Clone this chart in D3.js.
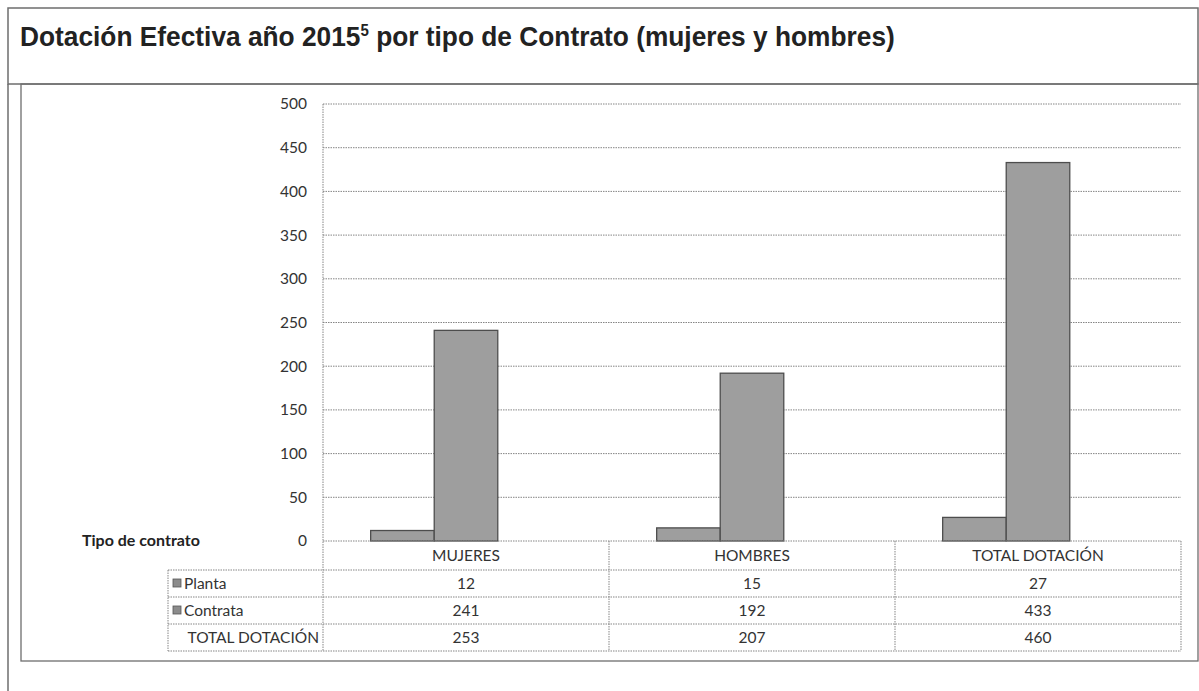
<!DOCTYPE html>
<html>
<head>
	<meta charset="utf-8">
	<title>Dotación Efectiva 2015</title>
	<script src="https://cdnjs.cloudflare.com/ajax/libs/d3/7.8.5/d3.min.js"></script>
	<style>
		body { margin: 0; background: #fff; }
		svg { display: block; }
	</style>
</head>
<body>
	<script>

		// data
		var categories = ["MUJERES", "HOMBRES", "TOTAL DOTACIÓN"];
		var seriesNames = ["Planta", "Contrata", "TOTAL DOTACIÓN"];
		var planta = [12, 15, 27];
		var contrata = [241, 192, 433];
		var totalDotacion = [253, 207, 460];
		var yTicks = [0, 50, 100, 150, 200, 250, 300, 350, 400, 450, 500];

		var seriesValues = [planta, contrata, totalDotacion];
		var drawnSeries = ["Planta", "Contrata"]; // third series has no visible bar

		var width = 1199;
		var height = 691;

		var svg = d3.select("body").append("svg")
			.attr("width", width)
			.attr("height", height);

		var frameColor = "#6e6e6e";
		var gridColor = "#858585";
		var textColor = "#333";
		var font = "Lato, 'Open Sans', sans-serif";
		var fs = 15.5;

		// outer frame and title box
		svg.append("rect")
			.attr("x", 8).attr("y", 8)
			.attr("width", 1190).attr("height", 76)
			.attr("fill", "none")
			.attr("stroke", frameColor)
			.attr("stroke-width", 1.5);
		svg.append("line")
			.attr("x1", 8).attr("x2", 8)
			.attr("y1", 84).attr("y2", 691)
			.attr("stroke", frameColor).attr("stroke-width", 1.5);

		// chart box
		svg.append("rect")
			.attr("x", 21).attr("y", 84)
			.attr("width", 1177).attr("height", 577)
			.attr("fill", "none")
			.attr("stroke", frameColor)
			.attr("stroke-width", 1.3);

		// title (condensed face: squeeze horizontally to the original width)
		var title = svg.append("text")
			.attr("x", 0).attr("y", 0)
			.attr("font-family", "'Liberation Sans Narrow', 'Arial Narrow', 'Liberation Sans', sans-serif")
			.attr("font-weight", "bold")
			.attr("font-size", 28)
			.attr("fill", "#222");
		title.append("tspan").text("Dotación Efectiva año 2015");
		title.append("tspan").attr("font-size", 16).attr("dy", -10).text("5");
		title.append("tspan").attr("dy", 10).text(" por tipo de Contrato (mujeres y hombres)");
		var tw = title.node().getComputedTextLength();
		title.attr("transform", "translate(20,46) scale(" + (875 / tw) + ",1)");

		// scales
		var plotLeft = 323, plotRight = 1181, plotTop = 104, plotBottom = 541;

		var x = d3.scaleBand()
			.domain(categories)
			.range([plotLeft, plotRight])
			.padding(0);

		var xInner = d3.scaleBand()
			.domain(seriesNames)
			.range([0, x.bandwidth()])
			.paddingInner(0)
			.paddingOuter(0.75);

		var y = d3.scaleLinear()
			.domain([0, 500])
			.range([plotBottom, plotTop]);

		// gridlines
		svg.append("g")
			.selectAll("line")
			.data(yTicks.filter(function(d) { return d > 0; }))
			.join("line")
			.attr("x1", plotLeft).attr("x2", plotRight)
			.attr("y1", function(d) { return y(d); })
			.attr("y2", function(d) { return y(d); })
			.attr("stroke", gridColor)
			.attr("stroke-width", 1)
			.attr("stroke-dasharray", "1.5,1");

		// y axis labels
		var yAxis = svg.append("g")
			.attr("transform", "translate(" + plotLeft + ",0)")
			.call(d3.axisLeft(y).tickValues(yTicks).tickSize(0).tickPadding(16));
		yAxis.select(".domain").remove();
		yAxis.selectAll("text")
			.attr("font-family", font)
			.attr("font-size", fs)
			.attr("fill", textColor);

		// bars
		var rows = [];
		categories.forEach(function(c, i) {
			seriesNames.forEach(function(s, j) {
				if (drawnSeries.indexOf(s) >= 0) rows.push({ cat: c, series: s, value: seriesValues[j][i] });
			});
		});

		svg.append("g")
			.selectAll("rect")
			.data(rows)
			.join("rect")
			.attr("x", function(d) { return x(d.cat) + xInner(d.series); })
			.attr("y", function(d) { return y(d.value); })
			.attr("width", xInner.bandwidth())
			.attr("height", function(d) { return y(0) - y(d.value); })
			.attr("fill", "#9e9e9e")
			.attr("stroke", "#4d4d4d")
			.attr("stroke-width", 1.3);

		// data table
		var tableLeft = 168;
		var rowH = 27;
		var headerTop = plotBottom;
		var headerBottom = 570;
		var tableBottom = headerBottom + rowH * seriesNames.length;
		var tg = svg.append("g");

		function hLine(x1, x2, yy) {
			tg.append("line")
				.attr("x1", x1).attr("x2", x2).attr("y1", yy).attr("y2", yy)
				.attr("stroke", gridColor).attr("stroke-width", 1)
				.attr("stroke-dasharray", "1.5,1");
		}
		function vLine(xx, y1, y2) {
			tg.append("line")
				.attr("x1", xx).attr("x2", xx).attr("y1", y1).attr("y2", y2)
				.attr("stroke", gridColor).attr("stroke-width", 1)
				.attr("stroke-dasharray", "1.5,1");
		}

		hLine(plotLeft, plotRight, headerTop);
		for (var r = 0; r <= seriesNames.length; r++) {
			hLine(tableLeft, plotRight, headerBottom + r * rowH);
		}
		vLine(plotLeft, plotTop, tableBottom);
		vLine(tableLeft, headerBottom, tableBottom);
		categories.forEach(function(c) {
			vLine(x(c) + x.bandwidth(), headerTop, tableBottom);
		});

		// header labels
		tg.selectAll(".cat")
			.data(categories)
			.join("text")
			.attr("class", "cat")
			.attr("x", function(d) { return x(d) + x.bandwidth() / 2; })
			.attr("y", headerTop + 20)
			.attr("text-anchor", "middle")
			.attr("font-family", font)
			.attr("font-size", fs)
			.attr("fill", textColor)
			.text(function(d) { return d; });

		// row labels and values
		seriesNames.forEach(function(s, j) {
			var ry = headerBottom + j * rowH + 19;
			if (drawnSeries.indexOf(s) >= 0) {
				tg.append("rect")
					.attr("x", tableLeft + 5).attr("y", ry - 10)
					.attr("width", 8).attr("height", 8)
					.attr("fill", "#8c8c8c")
					.attr("stroke", "#555").attr("stroke-width", 0.8);
				tg.append("text")
					.attr("x", tableLeft + 16).attr("y", ry)
					.attr("font-family", font).attr("font-size", fs)
					.attr("fill", textColor)
					.text(s);
			} else {
				tg.append("text")
					.attr("x", plotLeft - 4).attr("y", ry)
					.attr("text-anchor", "end")
					.attr("font-family", font).attr("font-size", fs)
					.attr("fill", textColor)
					.text(s);
			}
			tg.selectAll(".v" + j)
				.data(seriesValues[j])
				.join("text")
				.attr("class", "v" + j)
				.attr("x", function(d, i) { return x(categories[i]) + x.bandwidth() / 2; })
				.attr("y", ry)
				.attr("text-anchor", "middle")
				.attr("font-family", font).attr("font-size", fs)
				.attr("fill", textColor)
				.text(function(d) { return d; });
		});

		// axis title at the table corner
		svg.append("text")
			.attr("x", 82).attr("y", 546)
			.attr("font-family", font)
			.attr("font-weight", "bold")
			.attr("font-size", 16)
			.attr("fill", "#222")
			.text("Tipo de contrato");

	</script>
</body>
</html>
